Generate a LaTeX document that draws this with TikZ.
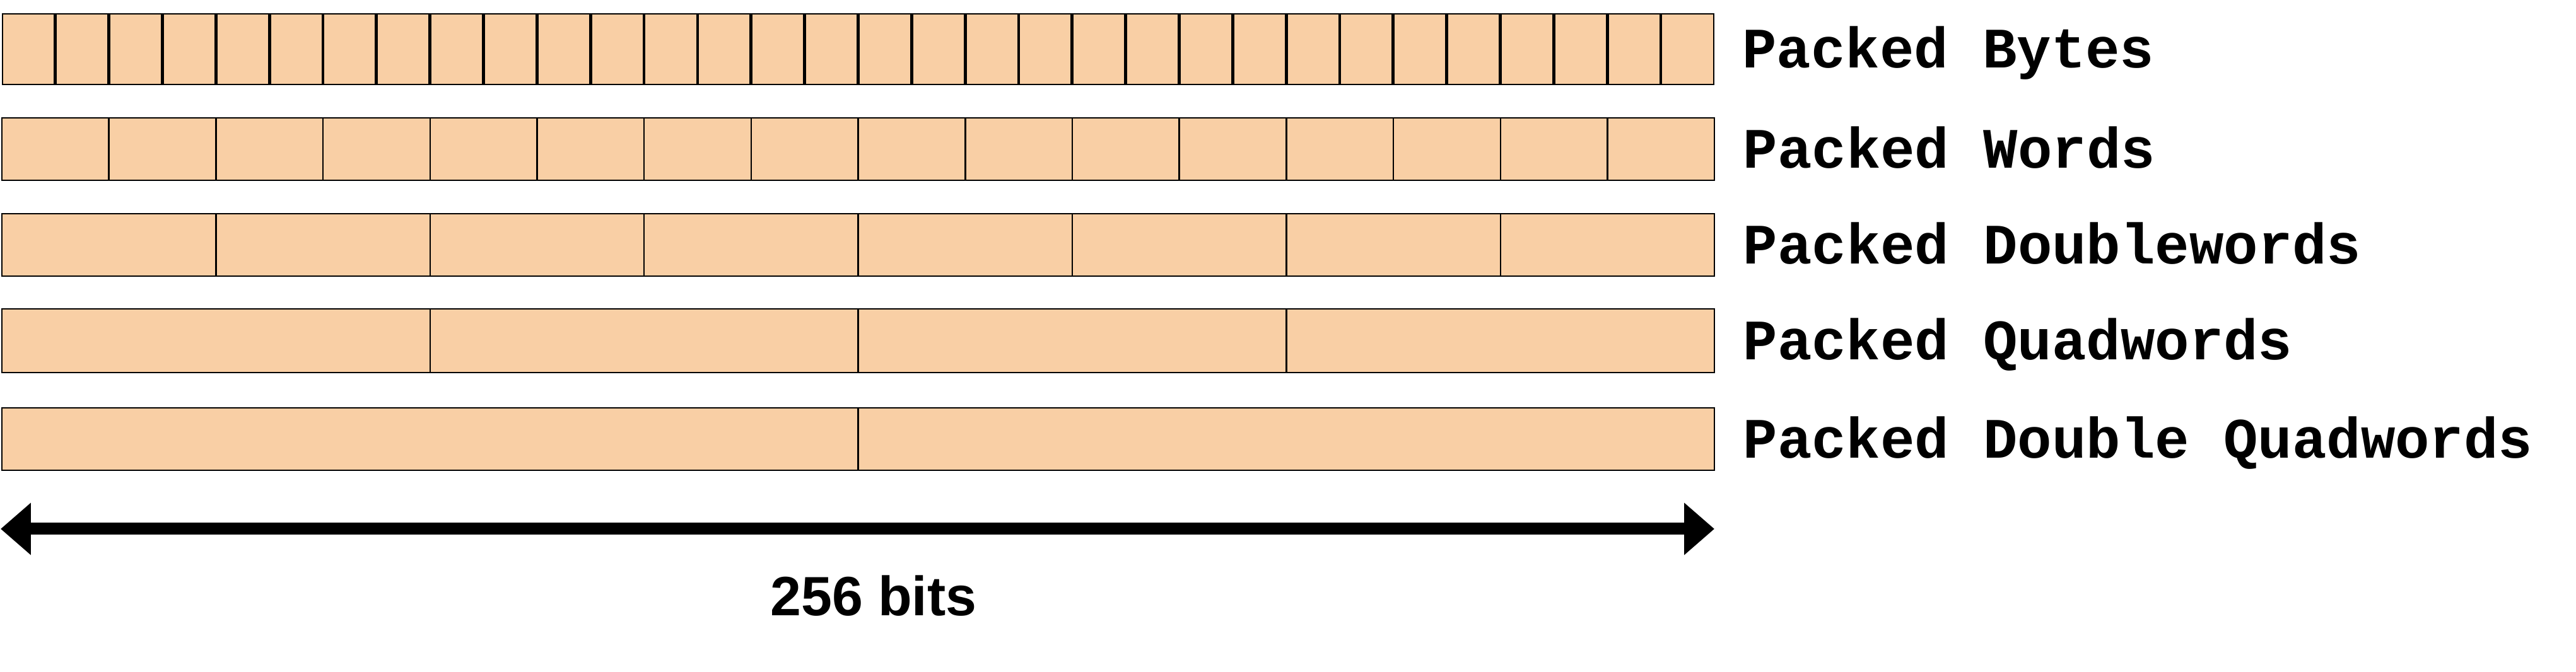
\documentclass[tikz,border=0pt]{standalone}
\usepackage{fontspec}
\setmainfont{Liberation Sans}
\setmonofont{Liberation Mono}
\usepackage{tikz}
\usetikzlibrary{arrows.meta, positioning}
\definecolor{cellfill}{HTML}{F9CFA5}
\tikzstyle{dimarrow} = [line width=0.19cm, {Triangle[length=0.48cm, width=0.8cm]}-{Triangle[length=0.48cm, width=0.8cm]}]

\begin{document}
\begin{tikzpicture}[
  cell/.style={draw, fill=cellfill, line width=0.7pt, inner sep=0pt, outer sep=0pt},
  lbl/.style={font=\ttfamily\bfseries\fontsize{25.8}{30}\selectfont, inner sep=0pt, text height=0.6cm, text depth=0pt},
  bits/.style={font=\bfseries\fontsize{25}{30}\selectfont, inner sep=0pt}
]
\useasboundingbox (0,0) rectangle (40.84,-10.66);

% Packed bytes (32 cells)
\foreach \i in {1,...,32}
  \node[cell, minimum width=0.825cm, minimum height=1.12cm] (b\i) at ({0.03+(\i-0.5)*0.8484}, -0.78) {};

% Packed words (16 cells)
\foreach \i in {1,...,16}
  \node[cell, minimum width=1.697cm, minimum height=0.99cm] (w\i) at ({0.03+(\i-0.5)*1.697}, -2.365) {};

% Packed doublewords (8 cells)
\foreach \i in {1,...,8}
  \node[cell, minimum width=3.394cm, minimum height=0.99cm] (d\i) at ({0.03+(\i-0.5)*3.394}, -3.885) {};

% Packed quadwords (4 cells)
\foreach \i in {1,...,4}
  \node[cell, minimum width=6.7875cm, minimum height=1.01cm] (q\i) at ({0.03+(\i-0.5)*6.7875}, -5.405) {};

% Packed double quadwords (2 cells)
\foreach \i in {1,2}
  \node[cell, minimum width=13.575cm, minimum height=0.99cm] (dq\i) at ({0.03+(\i-0.5)*13.575}, -6.965) {};

% Labels
\node[lbl, right=0.45cm of b32] (lbytes) {Packed Bytes};
\node[lbl, right=0.45cm of w16] (lwords) {Packed Words};
\node[lbl, right=0.45cm of d8] (ldwords) {Packed Doublewords};
\node[lbl, right=0.45cm of q4] (lqwords) {Packed Quadwords};
\node[lbl, right=0.45cm of dq2] (ldqwords) {Packed Double Quadwords};

% 256-bit span
\coordinate (al) at (0.01,-8.39);
\coordinate (ar) at (27.18,-8.39);
\draw[dimarrow] (al) -- (ar);
\node[bits, anchor=base] (span) at (13.85,-9.77) {256 bits};

\end{tikzpicture}
\end{document}
